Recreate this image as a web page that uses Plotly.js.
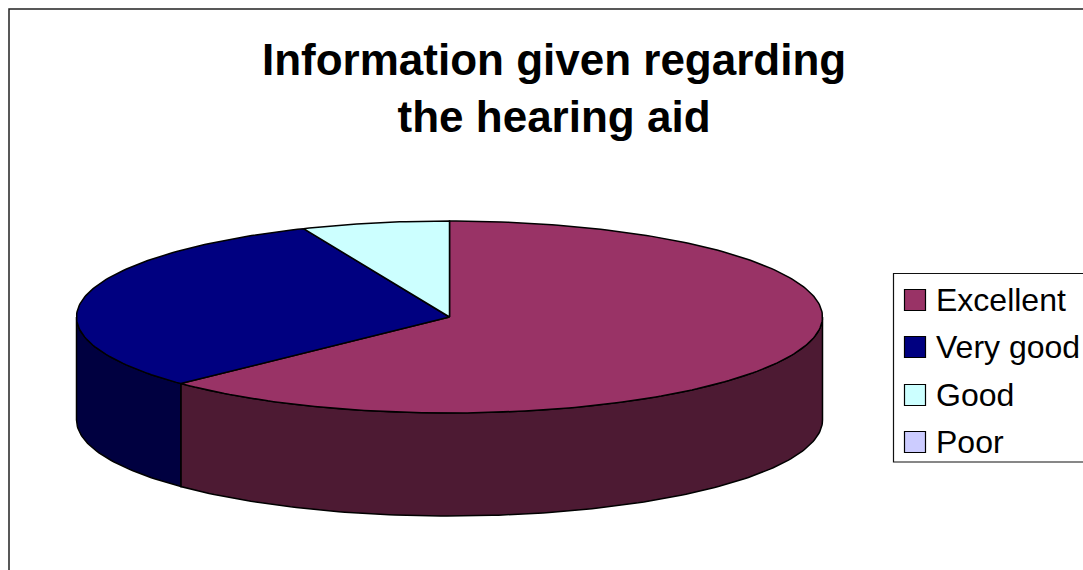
<!DOCTYPE html>
<html><head><meta charset="utf-8">
<script src="https://cdn.plot.ly/plotly-3.0.1.min.js"></script>
<style>html,body{margin:0;padding:0;background:#fff;overflow:hidden}#c{width:1083px;height:570px}</style>
</head><body><div id="c"></div>
<script>
const titleText = "Information given regarding<br>the hearing aid";
const categories = ["Excellent","Very good","Good","Poor"];
const values = [62.8,30.8,6.4,0];
const topColors = ["#993366","#000080","#CCFFFF","#CCCCFF"];
const sideColors = ["#4D1A33","#000040","#668080","#666680"];

const cx=449.5, cy=317, rx=373, ry=96, depth=103;
const total = values.reduce((a,b)=>a+b,0);
const px = d => cx + rx*Math.sin(d*Math.PI/180);
const py = (d,off=0) => cy - ry*Math.cos(d*Math.PI/180) + off;
function arc(a,b,off){ const xs=[],ys=[]; const n=Math.max(2,Math.ceil(Math.abs(b-a)/1));
  for(let i=0;i<=n;i++){const d=a+(b-a)*i/n; xs.push(px(d)); ys.push(py(d,off));} return [xs,ys]; }
function poly(x,y,color,name){ return {type:'scatter',mode:'lines',x,y,fill:'toself',fillcolor:color,
  line:{color:'#000',width:1.5},name,showlegend:false,hoverinfo:'name'}; }

const sides=[], tops=[]; let start=0;
categories.forEach((name,i)=>{
  const end = start + values[i]/total*360;
  if(values[i]>0){
    const a=Math.max(start,90), b=Math.min(end,270);
    if(b>a){ const [x1,y1]=arc(a,b,0), [x2,y2]=arc(b,a,depth);
      sides.push(poly(x1.concat(x2,[x1[0]]),y1.concat(y2,[y1[0]]),sideColors[i],name)); }
    const [x,y]=arc(start,end,0);
    tops.push(poly([cx].concat(x,[cx]),[cy].concat(y,[cy]),topColors[i],name));
  }
  start=end;
});

const lgTop=[300,347,395,442];
const shapes=[
 {type:'rect',xref:'x',yref:'y',x0:9,y0:9,x1:1120,y1:620,line:{color:'#222',width:1.5},fillcolor:'rgba(0,0,0,0)',layer:'below'},
 {type:'rect',xref:'x',yref:'y',x0:893.5,y0:273.5,x1:1120,y1:462,line:{color:'#111',width:1.2},fillcolor:'#fff'}
];
const annotations=[];
categories.forEach((name,i)=>{
  shapes.push({type:'rect',xref:'x',yref:'y',x0:904.5,x1:925.5,y0:lgTop[i]-10.5,y1:lgTop[i]+10.5,
    line:{color:'#000',width:1.2},fillcolor:topColors[i]});
  annotations.push({xref:'x',yref:'y',x:936,y:lgTop[i],text:name,showarrow:false,xanchor:'left',yanchor:'middle',
    xshift:-2,align:'left',font:{family:'Liberation Sans, Arial, sans-serif',size:32,color:'#000'}});
});

Plotly.newPlot('c',sides.concat(tops),{
  width:1083,height:570,margin:{l:0,r:0,t:0,b:0},paper_bgcolor:'#fff',plot_bgcolor:'#fff',showlegend:false,
  title:{text:titleText,x:0.5116,xanchor:'center',y:0.868,yanchor:'top',xref:'paper',yref:'paper',
    font:{family:'Liberation Sans, Arial, sans-serif',size:44,color:'#000',weight:700}},
  xaxis:{range:[0,1083],visible:false,fixedrange:true},
  yaxis:{range:[570,0],visible:false,fixedrange:true},
  shapes,annotations
},{displayModeBar:false,staticPlot:true});
</script></body></html>
